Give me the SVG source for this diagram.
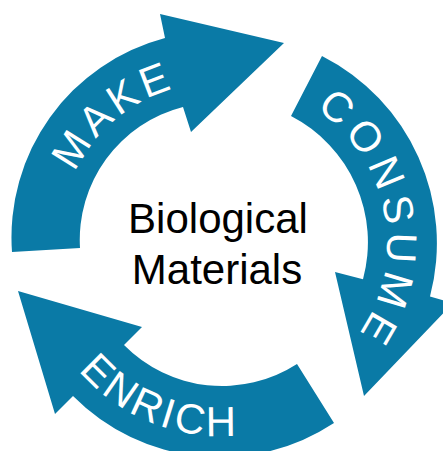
<svg xmlns="http://www.w3.org/2000/svg" width="443" height="451" viewBox="0 0 443 451">
<style>
.arrow{fill:#0a7aa6;stroke:none}
.lbl{fill:#ffffff;font-family:"Liberation Sans",Arial,sans-serif;font-size:42px}
.center{fill:#000000;font-family:"Liberation Sans",Arial,sans-serif;font-size:42px;text-anchor:middle}
</style>
<defs>
<path id="pMake" d="M 69.9,292.5 A 156.5,156.5 0 0 1 295.3,103.5"/>
<path id="pConsume" d="M 254,84.4 A 161,161 0 0 1 306.5,382.4"/>
<path id="pEnrich" d="M 34.1,242.5 A 187,187 0 0 0 360,374.1"/>
</defs>
<g id="make">
<path class="arrow" d="M 12,252 A 206,206 0 0 1 165,38 L 160,14 L 284,43 L 191,132 L 183,107 A 137,137 0 0 0 80,248 Z"/>
<text class="lbl" letter-spacing="4.3"><textPath href="#pMake" startOffset="50%" text-anchor="middle">MAKE</textPath></text>
</g>
<g id="consume">
<path class="arrow" d="M 322,56 A 210,210 0 0 1 430,296.6 L 453,303 L 364,396 L 335,272 L 363,279.3 A 142,142 0 0 0 291,116 Z"/>
<text class="lbl" letter-spacing="6.5"><textPath href="#pConsume" startOffset="50%" text-anchor="middle">CONSUME</textPath></text>
</g>
<g id="enrich">
<path class="arrow" d="M 334,423 A 207,207 0 0 1 73,396 L 55,414 L 18,291 L 142,327 L 124,345 A 138,138 0 0 0 297,364 Z"/>
<text class="lbl" letter-spacing="3.2"><textPath href="#pEnrich" startOffset="50%" text-anchor="middle">ENRICH</textPath></text>
</g>
<g id="biological-materials">
<text class="center" x="218" y="233">Biological</text>
<text class="center" x="217" y="284">Materials</text>
</g>
<g id="connectors"></g>
</svg>
